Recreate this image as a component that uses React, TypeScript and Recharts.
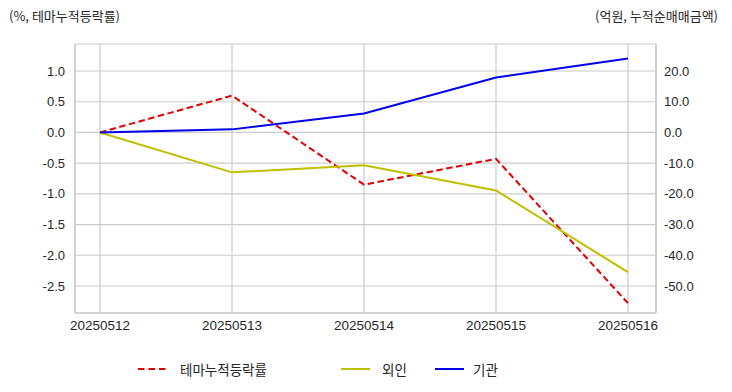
import React from 'react';
import { LineChart, Line, XAxis, YAxis, CartesianGrid } from 'recharts';

const dates = ['20250512', '20250513', '20250514', '20250515', '20250516'];
const themeReturn = [0, 0.6, -0.85, -0.43, -2.78];
const foreign = [0, -13.0, -10.7, -18.9, -45.5];
const institution = [0, 1.0, 6.2, 17.9, 24.1];

const leftTicks = [1.0, 0.5, 0.0, -0.5, -1.0, -1.5, -2.0, -2.5];
const rightTicks = [20, 10, 0, -10, -20, -30, -40, -50];

const data = dates.map((d, i) => ({
  date: d,
  theme: themeReturn[i],
  foreign: foreign[i],
  inst: institution[i],
}));

const legendItems = [
  { label: '테마누적등락률', color: '#e00000', dash: '6.5 4', x: 138, gap: 13 },
  { label: '외인', color: '#bfbf00', dash: undefined, x: 341, gap: 12 },
  { label: '기관', color: '#0000ee', dash: undefined, x: 435, gap: 9 },
];

const textColor = '#262626';
const gridColor = '#cccccc';
const font = '"Liberation Sans", Arial, sans-serif';
const krFont = '"Noto Sans CJK KR", sans-serif';

export default function App() {
  return (
    <div style={{ position: 'absolute', left: 0, top: 0, width: 732, height: 392, background: '#fff', fontFamily: font }}>
      <div style={{ position: 'absolute', left: 9, top: 6, fontSize: 13, color: textColor, fontFamily: krFont }}>
        (%, 테마누적등락률)
      </div>
      <div style={{ position: 'absolute', right: 14, top: 6, fontSize: 13, color: textColor, fontFamily: krFont }}>
        (억원, 누적순매매금액)
      </div>
      <LineChart width={732} height={392} data={data} margin={{ top: 44, right: 0, bottom: 0, left: 0 }}>
        <CartesianGrid yAxisId="left" stroke={gridColor} strokeWidth={1.2} />
        <XAxis
          dataKey="date"
          height={79}
          padding={{ left: 25, right: 28 }}
          tickLine={false}
          axisLine={{ stroke: gridColor, strokeWidth: 1.5 }}
          tick={{ fill: textColor, fontSize: 13.5, fontFamily: font }}
          tickMargin={1}
          interval={0}
        />
        <XAxis
          xAxisId="top"
          dataKey="date"
          orientation="top"
          height={0}
          padding={{ left: 25, right: 28 }}
          tick={false}
          tickLine={false}
          axisLine={{ stroke: gridColor, strokeWidth: 1.5 }}
        />
        <YAxis
          yAxisId="left"
          width={75}
          domain={[-2.94, 1.44]}
          ticks={leftTicks}
          tickFormatter={(v: number) => v.toFixed(1)}
          tickLine={false}
          axisLine={{ stroke: gridColor, strokeWidth: 1.5 }}
          tick={{ fill: textColor, fontSize: 13, fontFamily: font }}
          tickMargin={4}
          allowDataOverflow
        />
        <YAxis
          yAxisId="right"
          orientation="right"
          width={76}
          domain={[-58.8, 28.8]}
          ticks={rightTicks}
          tickFormatter={(v: number) => v.toFixed(1)}
          tickLine={false}
          axisLine={{ stroke: gridColor, strokeWidth: 1.5 }}
          tick={{ fill: textColor, fontSize: 13, fontFamily: font }}
          tickMargin={2}
          allowDataOverflow
        />
        <Line yAxisId="left" dataKey="theme" stroke="#e00000" strokeWidth={2} strokeDasharray="6.5 3.5" dot={false} isAnimationActive={false} />
        <Line yAxisId="right" dataKey="foreign" stroke="#bfbf00" strokeWidth={2} dot={false} isAnimationActive={false} />
        <Line yAxisId="right" dataKey="inst" stroke="#0000ee" strokeWidth={2} dot={false} isAnimationActive={false} />
      </LineChart>
      <div style={{ position: 'absolute', left: 0, top: 357, width: 732, height: 24 }}>
        {legendItems.map((it) => (
          <div key={it.label} style={{ position: 'absolute', left: it.x, top: 0, display: 'flex', alignItems: 'center', height: 24 }}>
            <svg width={29} height={4} style={{ marginRight: it.gap }}>
              <line x1={0} y1={2} x2={29} y2={2} stroke={it.color} strokeWidth={2} strokeDasharray={it.dash} />
            </svg>
            <span style={{ fontFamily: krFont, fontSize: 13.5, color: textColor }}>{it.label}</span>
          </div>
        ))}
      </div>
    </div>
  );
}
